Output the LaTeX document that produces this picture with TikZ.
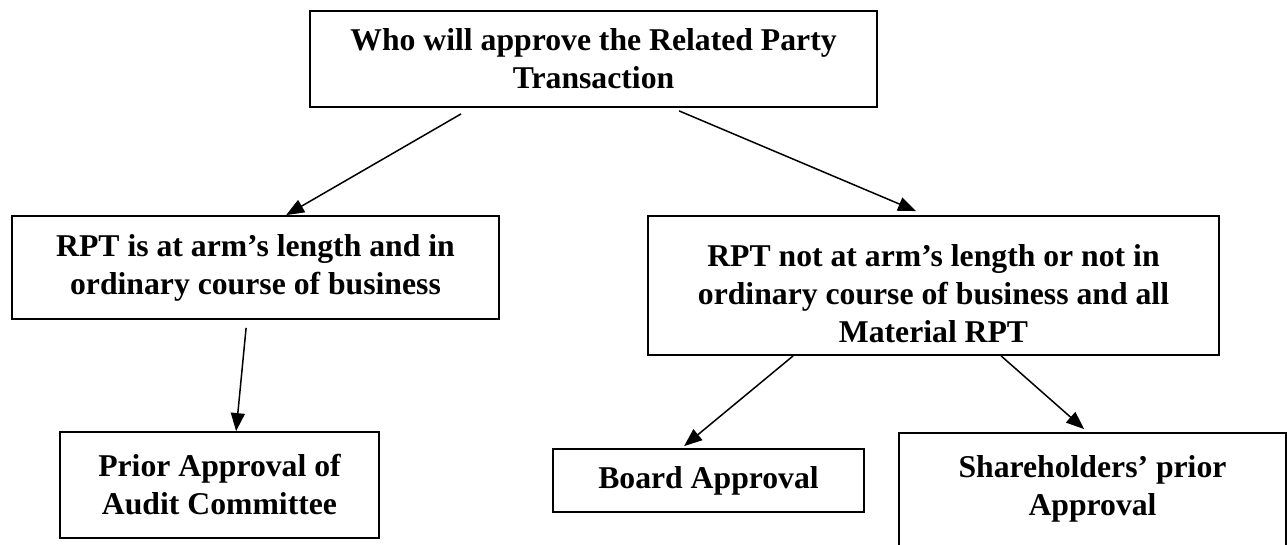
\documentclass[tikz,border=0pt]{standalone}
\usepackage{fontspec}
\setmainfont{Liberation Serif}
\usetikzlibrary{arrows.meta}
\begin{document}
\begin{tikzpicture}[x=1pt,y=-1pt,
  box/.style={draw, line width=1.8pt, align=center, inner sep=0pt,
    font=\bfseries\fontsize{31.7}{38}\selectfont},
  conn/.style={line width=1.5pt, -{Triangle[length=18pt,width=14pt]}}]
\useasboundingbox (0,0) rectangle (1287,545);
\node[box, minimum width=567pt, minimum height=96pt] (top) at (593.5,59)
  {Who will approve the Related Party\\Transaction};
\node[box, minimum width=487pt, minimum height=103pt] (left) at (255.5,267.5)
  {RPT is at arm’s length and in\\ordinary course of business};
\node[box, minimum width=571pt, minimum height=139pt] (right) at (933.5,285.5)
  {\rule{0pt}{38pt}RPT not at arm’s length or not in\\ordinary course of business and all\\Material RPT};
\node[box, minimum width=319pt, minimum height=106pt] (prior) at (219.5,485)
  {Prior Approval of\\Audit Committee};
\node[box, minimum width=311pt, minimum height=63pt] (board) at (708.5,480.5)
  {Board Approval};
\node[box, draw=none, minimum width=385pt, minimum height=110pt] (share) at (1092.5,489)
  {Shareholders’ prior\\Approval};
\draw[line width=1.8pt] ([yshift=-30pt]share.south west) -- (share.north west)
  -- (share.north east) -- ([yshift=-30pt]share.south east);
\draw[conn] ([xshift=152pt,yshift=-6pt]top.south west) -- ([xshift=275pt]left.north west);
\draw[conn] ([xshift=370pt,yshift=-3pt]top.south west) -- ([xshift=269pt,yshift=4pt]right.north west);
\draw[conn] ([xshift=235pt,yshift=-8pt]left.south west) -- ([xshift=177pt]prior.north west);
\draw[conn] ([xshift=146pt]right.south west) -- ([xshift=132pt,yshift=2pt]board.north west);
\draw[conn] ([xshift=354pt]right.south west) -- ([xshift=185pt,yshift=4pt]share.north west);
\end{tikzpicture}
\end{document}
